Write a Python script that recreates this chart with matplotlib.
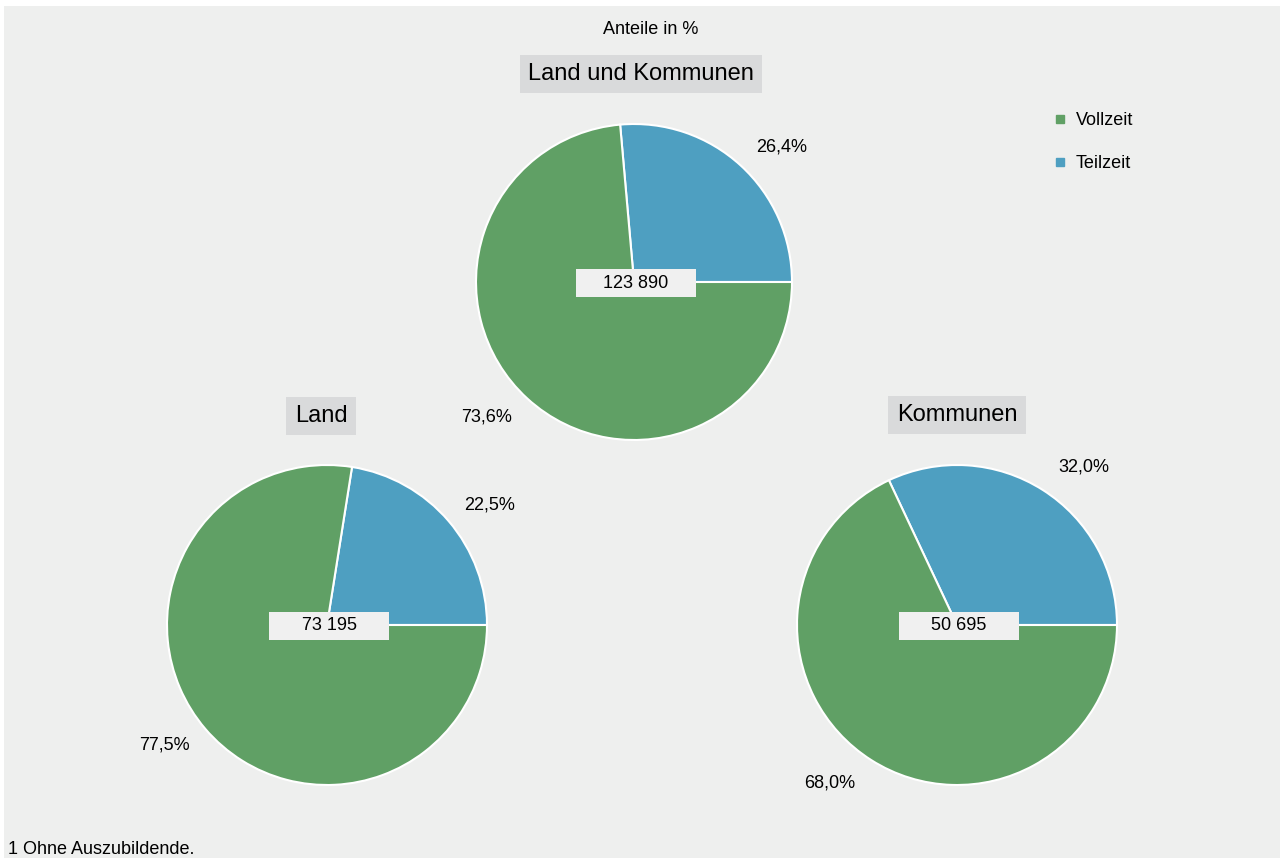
import matplotlib
matplotlib.use("Agg")
import numpy as np
import matplotlib.pyplot as plt
from matplotlib.patches import Rectangle
from matplotlib.lines import Line2D

plt.rcParams['font.family'] = ['Liberation Sans', 'DejaVu Sans']

# ---- data ----
categories = ["Teilzeit", "Vollzeit"]
titles = ["Land und Kommunen", "Land", "Kommunen"]
teilzeit = [26.4, 22.5, 32.0]
vollzeit = [73.6, 77.5, 68.0]
totals = ["123 890", "73 195", "50 695"]
legend_labels = ["Vollzeit", "Teilzeit"]
subtitle = "Anteile in %"
footnote = "1 Ohne Auszubildende."

# ---- style ----
GREEN = "#60a065"
BLUE = "#4e9fc1"
BG = "#eeefee"
TITLE_BG = "#d9dadb"
W, H = 1283, 858

fig = plt.figure(figsize=(W / 100, H / 100), dpi=100, facecolor="white")
ax = fig.add_axes([0, 0, 1, 1])
ax.set_xlim(0, W)
ax.set_ylim(0, H)
ax.set_aspect("equal")
ax.axis("off")

ax.add_patch(Rectangle((4, 0), 1276, H - 6, facecolor=BG, edgecolor="none", zorder=0))

# pie layout (center in pixels, y measured from bottom), radius, title pos, label rotation
layout = [((634, H - 282), 158, (641, H - 74), -5),
          ((327, H - 625), 160, (321, H - 416), -4),
          ((957, H - 625), 160, (957, H - 415), -6.5)]

fs = 13
for i, ((cx, cy), r, (tx, ty), rot) in enumerate(layout):
    vals = [teilzeit[i], vollzeit[i]]
    labels = [f"{v:.1f}%".replace(".", ",") for v in vals]
    wedges, texts = ax.pie(vals, colors=[BLUE, GREEN], startangle=0, counterclock=True,
                           center=(cx, cy), radius=r, labels=labels, labeldistance=1.265,
                           wedgeprops=dict(edgecolor="white", linewidth=1.5),
                           textprops=dict(fontsize=fs, color="black"),
                           frame=True)
    th = np.deg2rad(rot)
    for t in texts:
        x, y = t.get_position()
        dx, dy = x - cx, y - cy
        t.set_position((cx + dx * np.cos(th) - dy * np.sin(th),
                        cy + dx * np.sin(th) + dy * np.cos(th)))
        t.set_ha("center")
        t.set_va("center")
    ax.add_patch(Rectangle((cx + 2 - 60, cy - 1 - 14), 120, 28, facecolor="#f0f0f0",
                           edgecolor="none", zorder=5))
    ax.text(cx + 2, cy - 1, totals[i], fontsize=fs, ha="center", va="center", zorder=6)
    ax.text(tx, ty, titles[i], fontsize=17, ha="center", va="center",
            bbox=dict(boxstyle="square,pad=0.35", facecolor=TITLE_BG, edgecolor="none"))

ax.set_xlim(0, W)
ax.set_ylim(0, H)
ax.axis("off")

ax.text(651, H - 30, subtitle, fontsize=fs, ha="center", va="center")
ax.text(8, 4, footnote, fontsize=fs, ha="left", va="baseline")

handles = [Line2D([], [], marker="s", linestyle="none", color=GREEN, markersize=5.5),
           Line2D([], [], marker="s", linestyle="none", color=BLUE, markersize=5.5)]
ax.legend(handles, legend_labels, loc="upper left", bbox_to_anchor=(1046 / W, 1 - 105 / H),
          frameon=False, fontsize=fs, labelspacing=1.42, handlelength=0.8,
          handletextpad=0.45, borderaxespad=0)

fig.savefig("out.png", dpi=100, facecolor="white")
